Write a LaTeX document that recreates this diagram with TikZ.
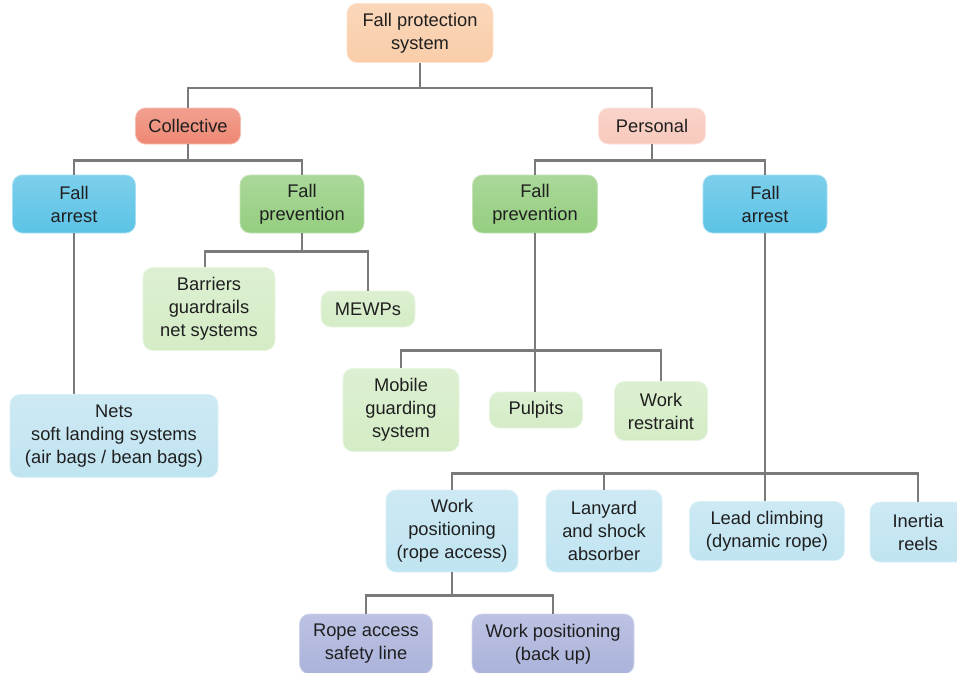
\documentclass[tikz,border=0pt]{standalone}
\usepackage{fontspec}
\setmainfont{Liberation Sans}
\usepackage{tikz}
\usetikzlibrary{calc}

\definecolor{peach}{HTML}{F9CDA9}
\definecolor{salmon}{HTML}{EE8874}
\definecolor{pinkish}{HTML}{F8C9BC}
\definecolor{skyblue}{HTML}{5CC3E6}
\definecolor{leafgreen}{HTML}{95CE80}
\definecolor{palegreen}{HTML}{D4ECC6}
\definecolor{paleblue}{HTML}{C0E4F1}
\definecolor{lavender}{HTML}{ABB3DB}
\definecolor{linkgray}{HTML}{7A7A7A}

\begin{document}
\begin{tikzpicture}[x=1pt,y=-1pt,
  box/.style={rounded corners=10pt,align=center,inner sep=2pt,
    font=\fontsize{18.3}{23}\selectfont,text=black!88,
    top color=#1!80!white,bottom color=#1,draw=#1!55!white,line width=0.8pt},
  link/.style={draw=linkgray,line width=2.2pt}]

\useasboundingbox (0,0) rectangle (957,672);

% Level 0
\node[box=peach,minimum width=146pt,minimum height=59pt] (root) at (420,33) {Fall protection\\system};

% Level 1
\node[box=salmon,minimum width=105pt,minimum height=36pt] (coll) at (188,126) {Collective};
\node[box=pinkish,minimum width=107pt,minimum height=36pt] (pers) at (652,126) {Personal};

% Level 2
\node[box=skyblue,minimum width=123pt,minimum height=58pt] (arrL) at (74,204) {Fall\\arrest};
\node[box=leafgreen,minimum width=124pt,minimum height=58pt] (prevL) at (302,204) {Fall\\prevention};
\node[box=leafgreen,minimum width=125pt,minimum height=58pt] (prevR) at (535,204) {Fall\\prevention};
\node[box=skyblue,minimum width=124pt,minimum height=58pt] (arrR) at (765,204) {Fall\\arrest};

% Collective branch
\node[box=palegreen,minimum width=132pt,minimum height=83pt] (barr) at (209,309) {Barriers\\guardrails\\net systems};
\node[box=palegreen,minimum width=94pt,minimum height=36pt] (mewp) at (368,309) {MEWPs};
\node[box=paleblue,minimum width=208pt,minimum height=83pt] (nets) at (114,436) {Nets\\soft landing systems\\(air bags / bean bags)};

% Personal prevention
\node[box=palegreen,minimum width=116pt,minimum height=83pt] (mob) at (401,410) {Mobile\\guarding\\system};
\node[box=palegreen,minimum width=93pt,minimum height=36pt] (pulp) at (536,410) {Pulpits};
\node[box=palegreen,minimum width=93pt,minimum height=59pt] (restr) at (661,411) {Work\\restraint};

% Personal arrest
\node[box=paleblue,minimum width=132pt,minimum height=82pt] (wpos) at (452,531) {Work\\positioning\\(rope access)};
\node[box=paleblue,minimum width=116pt,minimum height=82pt] (lany) at (604,531) {Lanyard\\and shock\\absorber};
\node[box=paleblue,minimum width=155pt,minimum height=59pt] (lead) at (767,531) {Lead climbing\\(dynamic rope)};
\node[box=paleblue,minimum width=96pt,minimum height=60pt] (inert) at (918,532) {Inertia\\reels};

% Rope access
\node[box=lavender,minimum width=133pt,minimum height=60pt] (rope) at (366,644) {Rope access\\safety line};
\node[box=lavender,minimum width=162pt,minimum height=60pt] (back) at (553,644) {Work positioning\\(back up)};

% Connectors
\draw[link] (root.south) -- ++(0,25) -| (coll.north);
\draw[link] (root.south) -- ++(0,25) -| (pers.north);
\draw[link] (coll.south) -- ++(0,16) -| (arrL.north);
\draw[link] (coll.south) -- ++(0,16) -| (prevL.north);
\draw[link] (pers.south) -- ++(0,16) -| (prevR.north);
\draw[link] (pers.south) -- ++(0,16) -| (arrR.north);
\draw[link] (prevL.south) -- ++(0,18) -| ($(barr.north)+(-4,0)$);
\draw[link] (prevL.south) -- ++(0,18) -| (mewp.north);
\draw[link] (arrL.south) -- (arrL.south |- nets.north);
\draw[link] (prevR.south) -- (prevR.south |- pulp.north);
\draw[link] (prevR.south) -- ++(0,117) -| (mob.north);
\draw[link] (prevR.south) -- ++(0,117) -| (restr.north);
\draw[link] (arrR.south) -- (arrR.south |- lead.north);
\draw[link] (arrR.south) -- ++(0,240) -| (wpos.north);
\draw[link] (arrR.south) -- ++(0,240) -| (lany.north);
\draw[link] (arrR.south) -- ++(0,240) -| (inert.north);
\draw[link] (wpos.south) -- ++(0,23) -| (rope.north);
\draw[link] (wpos.south) -- ++(0,23) -| (back.north);

\end{tikzpicture}
\end{document}
